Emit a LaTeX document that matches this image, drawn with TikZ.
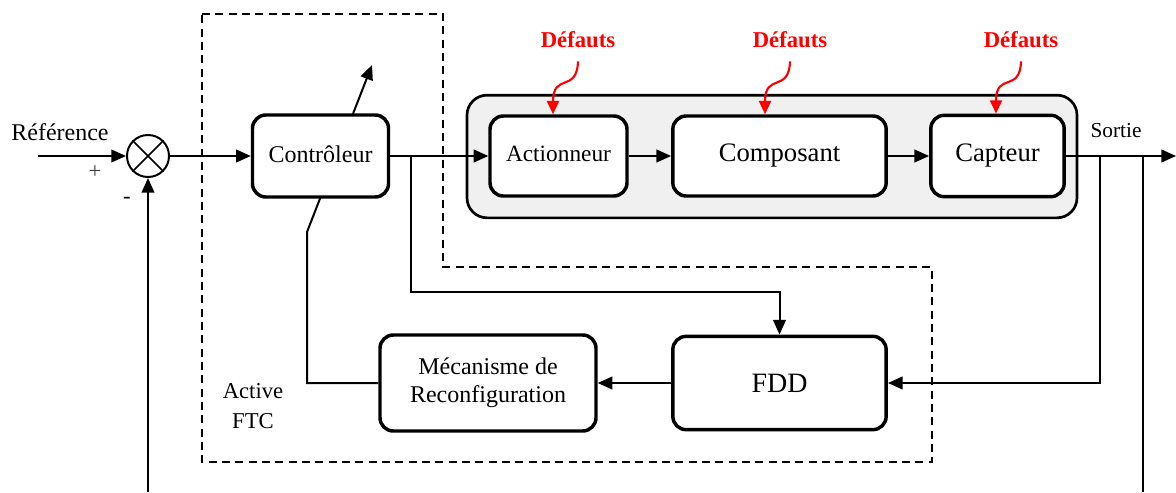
\documentclass[tikz,border=0pt]{standalone}
\usepackage{fontspec}
\setmainfont{Liberation Serif}
\usepackage{tikz}
\usetikzlibrary{positioning}
\usetikzlibrary{arrows.meta,backgrounds}
\tikzstyle{bloc}=[draw,line width=2.6pt,rounded corners=10pt,fill=white,inner sep=0pt,align=center]
\tikzstyle{sumnode}=[circle,draw,line width=1.5pt,minimum size=31.5pt,inner sep=0pt,fill=white]
\tikzstyle{edge}=[draw,line width=1.5pt,-{Triangle[length=11pt,width=9.5pt]}]
\tikzstyle{wire}=[draw,line width=1.5pt]
\tikzstyle{defaut}=[text=red,font=\fontsize{17}{17}\selectfont\bfseries]
\tikzstyle{faultedge}=[draw=red,line width=1.6pt,-{Triangle[length=10pt,width=9pt]},red]
\tikzstyle{lbl}=[font=\fontsize{18}{21}\selectfont,align=center,inner sep=0pt]

\begin{document}
\begin{tikzpicture}[x=0.75pt,y=-0.75pt]
\useasboundingbox (0,0) rectangle (1176,492);

% Active FTC zone
\draw[line width=1.3pt,dash pattern=on 6pt off 4pt] (202,14) -- (443,14) -- (443,267) -- (932,267) -- (932,462) -- (202,462) -- cycle;
\node[lbl,font=\fontsize{17}{22.5}\selectfont] (ftc) at (253,406) {Active\\FTC};

% process
\node[draw,line width=2pt,rounded corners=15pt,fill=black!6,minimum width=457.5pt,minimum height=92pt] (proc) at (772,156.5) {};
\node[bloc,minimum width=102.75pt,minimum height=60pt,font=\fontsize{17.5}{20}\selectfont] (act) at (558.5,156) {\raisebox{4pt}{Actionneur}};
\node[bloc,minimum width=160pt,minimum height=60pt,font=\fontsize{20}{22}\selectfont] (comp) at (779.5,156) {\raisebox{2pt}{Composant}};
\node[bloc,minimum width=100pt,minimum height=61pt,font=\fontsize{20}{22}\selectfont] (cap) at (997.5,156) {\raisebox{3pt}{Capteur}};

% loop
\node[sumnode] (sum) at (148,156) {};
\draw[line width=1.2pt] (sum.north west) -- (sum.south east) (sum.north east) -- (sum.south west);
\node[bloc,minimum width=102pt,minimum height=61.5pt,font=\fontsize{18}{20}\selectfont] (ctrl) at (320.5,156) {\raisebox{3pt}{Contrôleur}};
\node[bloc,minimum width=160pt,minimum height=70pt,font=\fontsize{21}{23}\selectfont] (fdd) at (779.5,383) {FDD};
\node[bloc,minimum width=162pt,minimum height=72pt,font=\fontsize{18}{21}\selectfont] (meca) at (488,383) {Mécanisme de\\Reconfiguration};

% labels
\node[lbl] (ref) at (60,132) {Référence};
\node[lbl,font=\fontsize{17}{17}\selectfont,text=black!75] (plus) at (95,172) {+};
\node[lbl,font=\fontsize{17}{17}\selectfont] (minus) at (127,200) {-};
\node[lbl,font=\fontsize{16}{16}\selectfont] (sortie) at (1116,131) {Sortie};

\coordinate (in) at (38,156);
\coordinate (fb) at (148,492);
\coordinate (out) at (1176,156);
\coordinate (br1) at (411,156);
\coordinate (br2) at (1100,156);
\coordinate (br3) at (1143,156);
\coordinate (br3b) at (1143,492);
\coordinate (k1) at (307,383);
\coordinate (k2) at (307,232);
\coordinate (k3) at (372,65);

% connections
\draw[edge] (in) -- (sum.west);
\draw[edge] (fb) -- (sum.south);
\draw[edge] (sum.east) -- (ctrl.west);
\draw[edge] (ctrl.east) -- (act.west);
\draw[edge] (act.east) -- (comp.west);
\draw[edge] (comp.east) -- (cap.west);
\draw[edge] (cap.east) -- (out);
\draw[wire] (br3) -- (br3b);
\draw[edge] (br1) -- (411,292) -| (fdd.north);
\draw[edge] (br2) |- (fdd.east);
\draw[edge] (fdd.west) -- (meca.east);
\begin{pgfonlayer}{background}
\draw[edge] (meca.west) -- (k1) -- (k2) -- (k3);
\end{pgfonlayer}

% faults
\foreach \name/\x/\blk in {d1/578/act, d2/790/comp, d3/1021/cap}
{
  \node[defaut] (\name) at (\x,40) {Défauts};
  \draw[faultedge] ([yshift=-16pt]\name.center) .. controls +(-1,32) and +(0,-42) .. ([xshift=-25*0.75pt]\name.center |- \blk.north);
}

\end{tikzpicture}
\end{document}
